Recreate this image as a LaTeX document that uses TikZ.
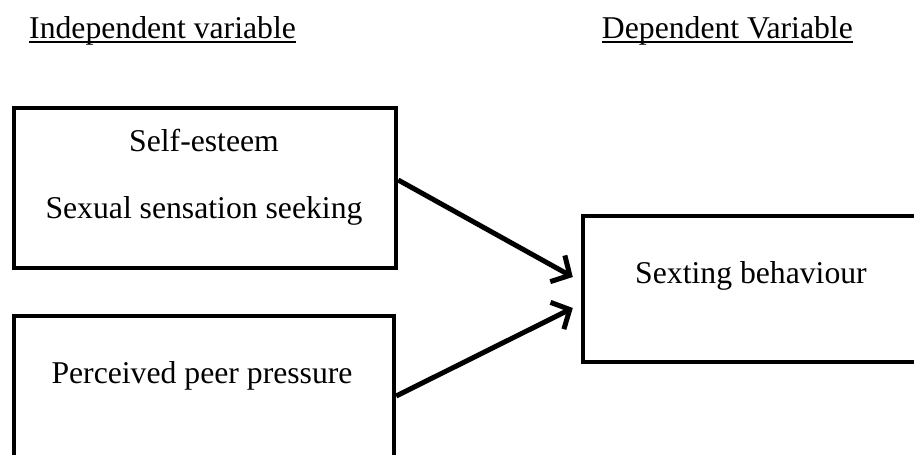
\documentclass[tikz,border=0pt]{standalone}
\usepackage{fontspec}
\setmainfont{Liberation Serif}
\usetikzlibrary{arrows.meta}
\begin{document}
\begin{tikzpicture}[x=1pt,y=-1pt,
  lbl/.style={inner sep=0pt,font=\fontsize{31.7}{38}\selectfont},
  boxx/.style={draw,line width=4.4pt,inner sep=0pt},
  arr/.style={line width=5pt,-{Straight Barb[length=14pt,width=30pt]}}]
\useasboundingbox (0,0) rectangle (914,455);
\begin{scope}
\clip (0,0) rectangle (914,455);
% headings
\node[lbl,anchor=base west] (h1) at (29,38) {Independent variable};
\node[lbl,anchor=base east] (h2) at (853,38) {Dependent Variable};
\draw[line width=1.6pt] ([yshift=-4pt]h1.base west) -- ([yshift=-4pt]h1.base east);
\draw[line width=1.6pt] ([yshift=-4pt]h2.base west) -- ([yshift=-4pt]h2.base east);
% boxes
\node[boxx,minimum width=382pt,minimum height=160pt] (b1) at (205,188) {};
\node[boxx,minimum width=380pt,minimum height=160pt] (b2) at (204,396) {};
\node[boxx,minimum width=350pt,minimum height=146pt] (b3) at (758,289) {};
% texts
\node[lbl,anchor=base] (t1) at (204,151) {Self-esteem};
\node[lbl,anchor=base] (t2) at (204,218) {Sexual sensation seeking};
\node[lbl,anchor=base] (t3) at (202,383) {Perceived peer pressure};
\node[lbl,anchor=base] (t4) at (751,283) {Sexting behaviour};
% arrows
\draw[arr] ([yshift=8pt]b1.east) -- ([xshift=-8pt,yshift=12pt]b3.west);
\draw[arr] (b2.east) -- ([xshift=-8pt,yshift=-19pt]b3.west);
\end{scope}
\end{tikzpicture}
\end{document}
